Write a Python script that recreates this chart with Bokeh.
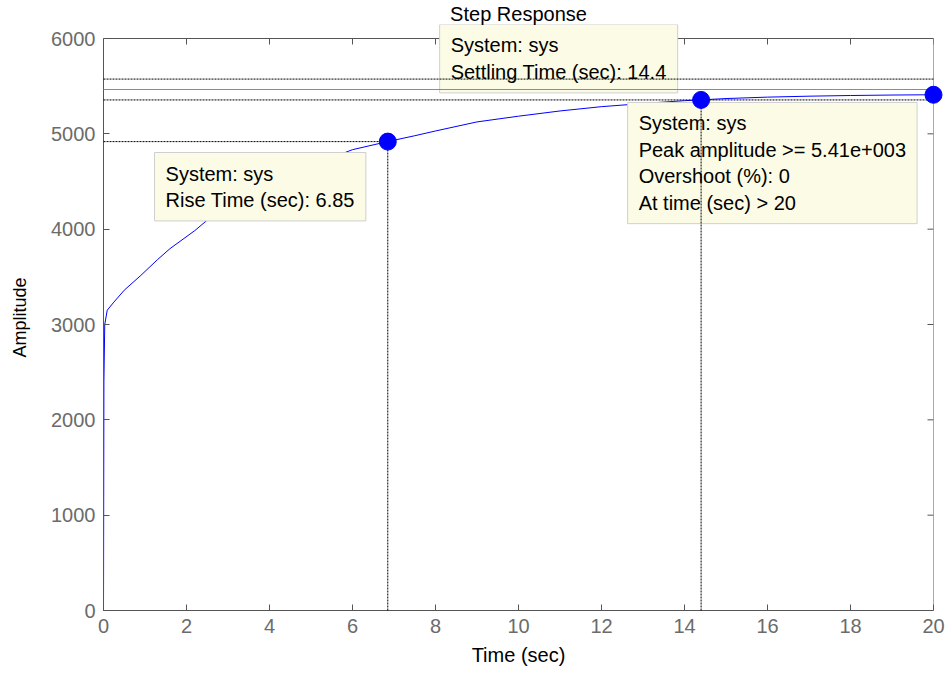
from bokeh.plotting import figure
from bokeh.models import Label, Range1d
from bokeh.embed import file_html
from bokeh.resources import INLINE

# Step response samples of "sys" (time in seconds, amplitude)
time = [0, 0.01, 0.03, 0.09, 0.25, 0.5, 0.9, 1.3, 1.6, 2.2, 2.5, 3.0, 3.5, 4.0,
        4.5, 5.0, 5.5, 6.0, 6.85, 7.5, 8.0, 9.0, 10.0, 11.0, 12.0, 13.0, 14.0,
        14.4, 15.0, 16.0, 17.0, 18.0, 19.0, 20.0]
amplitude = [0, 2400, 3000, 3150, 3235, 3360, 3515, 3680, 3795, 3985, 4095, 4230,
             4360, 4470, 4570, 4660, 4750, 4834, 4919, 4980, 5030, 5125, 5185,
             5240, 5285, 5318, 5348, 5356, 5370, 5385, 5395, 5402, 5407, 5410]

# Step characteristics
final_value = 5465
rise_time = 6.85
settling_time = 14.4
peak_time = 20
peak_amplitude = 5410
overshoot = 0

x_ticks = [0, 2, 4, 6, 8, 10, 12, 14, 16, 18, 20]
y_ticks = [0, 1000, 2000, 3000, 4000, 5000, 6000]

FONT = "Liberation Sans"
AXIS_GRAY = "#555555"
TICK_GRAY = "#6b6b6b"

x_min, x_max = x_ticks[0], x_ticks[-1]
y_min, y_max = y_ticks[0], y_ticks[-1]

# the frame reaches a little above the axes box so that data tips may
# overhang its top edge; the box itself is drawn from the axis limits
y_view_top = y_max * 586 / 572

p = figure(width=949, height=677, output_backend="svg", toolbar_location=None,
           x_range=Range1d(x_min, x_max), y_range=Range1d(y_min, y_view_top),
           min_border_left=103, min_border_right=16,
           min_border_top=24, min_border_bottom=67,
           title="Step Response",
           x_axis_label="Time (sec)", y_axis_label="Amplitude")
p.grid.visible = False
p.outline_line_color = None
p.background_fill_color = "white"
p.border_fill_color = "white"

p.title.align = "center"
p.title.text_font = FONT
p.title.text_font_size = "20px"
p.title.text_font_style = "normal"
p.title.text_color = "black"
p.title.standoff = 0
p.title.offset = 0

for ax in p.xaxis:
    ax.ticker = x_ticks
for ax in p.yaxis:
    ax.ticker = y_ticks
    ax.bounds = (y_min, y_max)

for ax in list(p.xaxis) + list(p.yaxis):
    ax.axis_line_color = AXIS_GRAY
    ax.major_tick_line_color = AXIS_GRAY
    ax.major_tick_in = 6
    ax.major_tick_out = 0
    ax.minor_tick_line_color = None
    ax.major_label_text_font = FONT
    ax.major_label_text_color = TICK_GRAY
    ax.major_label_standoff = 8
    ax.major_label_text_font_size = "20px"
    ax.axis_label_text_font = FONT
    ax.axis_label_text_font_style = "normal"
    ax.axis_label_text_color = "black"

p.xaxis.axis_label_text_font_size = "20px"
p.xaxis.axis_label_standoff = 8
p.yaxis.axis_label_text_font_size = "18px"
p.yaxis.axis_label_standoff = 18

# top and right edges of the axes box, with inward ticks
x_tick_len = 6 * y_max / 572
y_tick_len = 6 * x_max / 830
p.line([x_min, x_max], [y_max, y_max], line_color=AXIS_GRAY, line_width=1)
p.line([x_max, x_max], [y_min, y_max], line_color=AXIS_GRAY, line_width=1)
p.segment(x0=x_ticks, y0=[y_max] * len(x_ticks),
          x1=x_ticks, y1=[y_max - x_tick_len] * len(x_ticks),
          line_color=AXIS_GRAY, line_width=1)
p.segment(x0=[x_max] * len(y_ticks), y0=y_ticks,
          x1=[x_max - y_tick_len] * len(y_ticks), y1=y_ticks,
          line_color=AXIS_GRAY, line_width=1)

# response curve
p.line(time, amplitude, line_color="#0000ff", line_width=1)

# data tips
TIP_STYLE = dict(anchor="top_left", text_font=FONT, text_font_size="20px",
                 text_color="black", text_line_height=1.2,
                 background_fill_color="#fcfce6", background_fill_alpha=1.0,
                 border_line_color="#cfcfcf", border_line_width=1,
                 padding=dict(left=11, right=11, top=10, bottom=10))

p.add_layout(Label(x=1.23, y=4804,
                   text="System: sys\nRise Time (sec): %.2f" % rise_time,
                   **TIP_STYLE))
p.add_layout(Label(x=8.10, y=6147,
                   text="System: sys\nSettling Time (sec): %.1f" % settling_time,
                   **TIP_STYLE))
p.add_layout(Label(x=12.63, y=5329,
                   text=("System: sys\nPeak amplitude >= %.2fe+003\n"
                         "Overshoot (%%): %d\nAt time (sec) > %d")
                   % (peak_amplitude / 1000, overshoot, peak_time),
                   **TIP_STYLE))

# characteristic guide lines
DOT = dict(line_color="#000000", line_width=1, line_dash="2 1", level="overlay")
rise_level = 0.9 * final_value
settle_level = 0.98 * final_value
p.line([x_min, x_max], [1.02 * final_value] * 2, **DOT)
p.line([x_min, x_max], [settle_level] * 2, **DOT)
p.line([x_min, x_max], [final_value] * 2, line_color="#8c8c8c", line_width=1,
       level="overlay")
p.line([x_min, rise_time], [rise_level] * 2, **DOT)
p.line([rise_time, rise_time], [y_min, rise_level], **DOT)
p.line([settling_time, settling_time], [y_min, settle_level], **DOT)

p.scatter([rise_time, settling_time, peak_time],
          [rise_level, settle_level, peak_amplitude],
          size=17, fill_color="#0000ff", line_color="#0000ff", level="overlay")

open("out.html", "w").write(file_html(p, INLINE))
